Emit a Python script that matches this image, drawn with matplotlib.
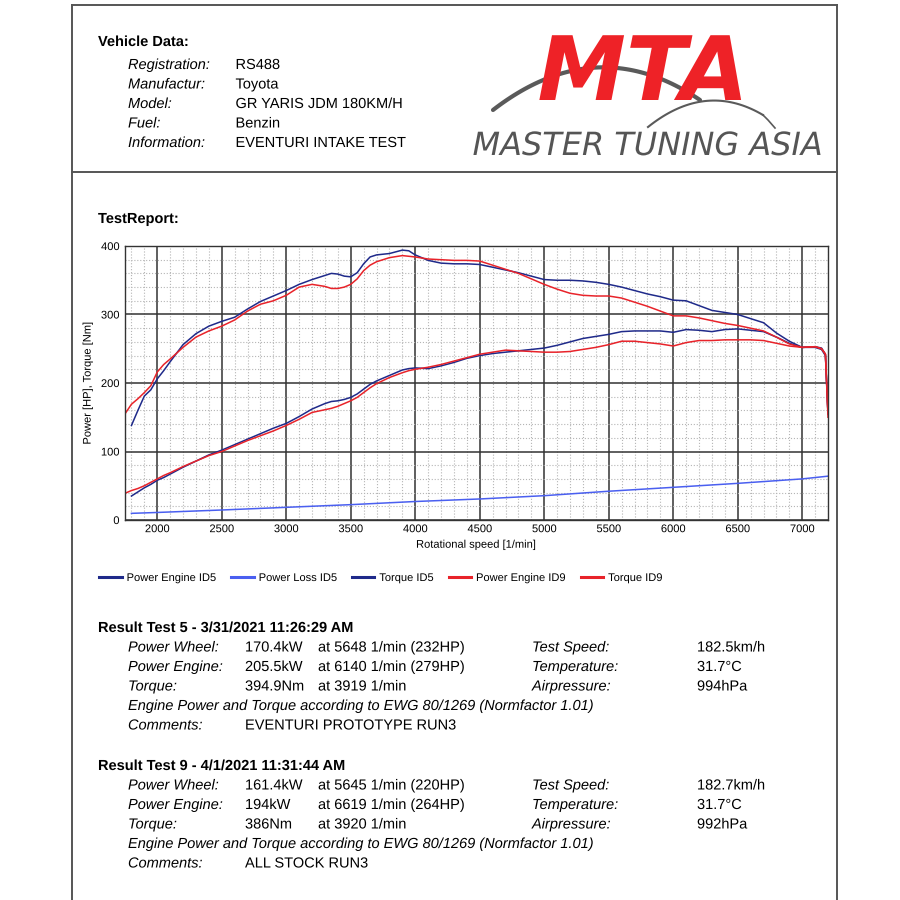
import numpy as np
import matplotlib
matplotlib.use('Agg')
import matplotlib.pyplot as plt
import matplotlib.patheffects as pe
from matplotlib.ticker import MultipleLocator

plt.rcParams['font.family'] = ['Liberation Sans', 'DejaVu Sans']
# draw text as paths so every string on a row sits on the same baseline
plt.rcParams['path.effects'] = [pe.Normal()]

# dyno data
rpm = [1750, 1800, 1850, 1900, 1950, 2000, 2050, 2100, 2200, 2300, 2400, 2500,
       2600, 2700, 2800, 2900, 3000, 3100, 3200, 3300, 3350, 3400, 3450, 3500,
       3550, 3600, 3650, 3700, 3800, 3900, 3950, 4000, 4100, 4200, 4300, 4400,
       4500, 4600, 4700, 4800, 4900, 5000, 5100, 5200, 5300, 5400, 5500, 5600,
       5700, 5800, 5900, 6000, 6100, 6200, 6300, 6400, 6500, 6600, 6700, 6800,
       6900, 7000, 7100, 7150, 7180, 7200]

torque_id5 = [np.nan, 138, 160, 181, 190, 206, 218, 231, 256, 272, 283, 290,
              296, 308, 319, 327, 335, 344, 351, 357, 360, 359, 356, 355,
              361, 374, 384, 387, 389, 394, 393, 387, 379, 375, 374, 374,
              373, 369, 365, 361, 356, 351, 350, 350, 349, 347, 344, 340,
              335, 330, 326, 321, 320, 313, 306, 303, 300, 294, 288, 273,
              261, 252, 252, 249, 240, 155]

power_id5 = [np.nan, 35, 41, 47, 52, 58, 62, 67, 77, 86, 95, 102,
             110, 118, 126, 134, 141, 151, 162, 170, 173, 174, 176, 179,
             184, 191, 198, 203, 211, 219, 221, 222, 221, 225, 230, 236,
             240, 243, 245, 247, 249, 251, 255, 260, 265, 268, 271, 275,
             276, 276, 276, 274, 278, 277, 275, 278, 279, 277, 275, 267,
             258, 252, 253, 251, 242, 155]

power_id9 = [39, 43, 46, 50, 55, 60, 65, 69, 78, 86, 94, 100,
             108, 116, 123, 130, 138, 147, 157, 161, 163, 166, 170, 174,
             179, 186, 193, 199, 208, 215, 218, 220, 223, 227, 232, 237,
             242, 245, 248, 247, 246, 245, 245, 246, 249, 252, 256, 261,
             261, 259, 257, 254, 259, 262, 262, 263, 263, 263, 262, 258,
             254, 252, 253, 250, 242, 150]

torque_id9 = [155, 169, 177, 186, 196, 216, 227, 235, 252, 267, 276, 283,
              292, 305, 315, 320, 328, 340, 344, 341, 338, 338, 340, 344,
              352, 364, 372, 377, 383, 386, 385, 384, 381, 380, 379, 379,
              378, 372, 366, 360, 352, 344, 337, 331, 328, 327, 327, 324,
              318, 312, 305, 298, 298, 295, 291, 287, 284, 280, 276, 267,
              257, 252, 253, 250, 242, 155]

loss_rpm = [1800, 2000, 2500, 3000, 3500, 4000, 4500, 5000, 5500, 6000, 6500, 7000, 7200]
loss_id5 = [9.7, 11, 14.6, 18.5, 22.4, 27, 30.7, 35.5, 42, 47.7, 53.5, 60, 64]

navy = '#1f2a8a'
light_blue = '#4a5ff0'
red = '#e8232a'

fig = plt.figure(figsize=(9, 9), dpi=100)

# page overlay in pixel coordinates
bg = fig.add_axes([0, 0, 1, 1], zorder=0)
bg.set_xlim(0, 900)
bg.set_ylim(900, 0)
bg.axis('off')

frame = '#555555'
bg.plot([72, 72], [5, 900], color=frame, lw=1.4)
bg.plot([837, 837], [5, 900], color=frame, lw=1.4)
bg.plot([72, 837], [5, 5], color=frame, lw=1.4)
bg.plot([72, 837], [172, 172], color=frame, lw=1.4)

fs = 10.5
bg.text(98, 46, 'Vehicle Data:', fontsize=fs, fontweight='bold', va='baseline')
veh_labels = ['Registration:', 'Manufactur:', 'Model:', 'Fuel:', 'Information:']
veh_values = ['RS488', 'Toyota', 'GR YARIS JDM 180KM/H', 'Benzin', 'EVENTURI INTAKE TEST']
for i, (lab, val) in enumerate(zip(veh_labels, veh_values)):
    yb = 69 + i * 19.5
    bg.text(128, yb, lab, fontsize=fs, style='italic', va='baseline')
    bg.text(235.5, yb, val, fontsize=fs, va='baseline')

# logo
t = np.linspace(0, 1, 60)
sx = 493 + (700 - 493) * t
sy = 110 - 150 * t * (1 - t) - 10 * t
bg.plot(sx, sy, color='#5a5a5a', lw=3, solid_capstyle='round', zorder=1)
bg.text(643, 100, 'MTA', fontsize=64, fontweight='bold', style='italic',
        color='#ee2227', ha='center', va='baseline', family='DejaVu Sans', zorder=2)
t2 = np.linspace(0, 1, 40)
bg.plot(648 + 115 * t2, 127 - 80 * t2 * (1 - t2) - 12 * t2, color='#5a5a5a', lw=1.5)
bg.plot([763, 768, 775], [115, 120, 128], color='#5a5a5a', lw=1.2)
bg.text(648, 155, 'MASTER TUNING ASIA', fontsize=23, style='italic',
        color='#555555', ha='center', va='baseline', family='DejaVu Sans')

bg.text(98, 223, 'TestReport:', fontsize=fs, fontweight='bold', va='baseline')

# results
tests = [
    ('Result Test 5 - 3/31/2021 11:26:29 AM', 632,
     ['170.4kW', '205.5kW', '394.9Nm'],
     ['at 5648 1/min (232HP)', 'at 6140 1/min (279HP)', 'at 3919 1/min'],
     ['182.5km/h', '31.7\u00b0C', '994hPa'], 'EVENTURI PROTOTYPE RUN3'),
    ('Result Test 9 - 4/1/2021 11:31:44 AM', 770,
     ['161.4kW', '194kW', '386Nm'],
     ['at 5645 1/min (220HP)', 'at 6619 1/min (264HP)', 'at 3920 1/min'],
     ['182.7km/h', '31.7\u00b0C', '992hPa'], 'ALL STOCK RUN3'),
]
row_labels = ['Power Wheel:', 'Power Engine:', 'Torque:']
right_labels = ['Test Speed:', 'Temperature:', 'Airpressure:']
for title, y0, vals, ats, rvals, comment in tests:
    bg.text(98, y0, title, fontsize=fs, fontweight='bold', va='baseline')
    for i in range(3):
        yb = y0 + 19.5 * (i + 1)
        bg.text(128, yb, row_labels[i], fontsize=fs, style='italic', va='baseline')
        bg.text(245, yb, vals[i], fontsize=fs, va='baseline')
        bg.text(318, yb, ats[i], fontsize=fs, va='baseline')
        bg.text(532, yb, right_labels[i], fontsize=fs, style='italic', va='baseline')
        bg.text(697, yb, rvals[i], fontsize=fs, va='baseline')
    bg.text(128, y0 + 19.5 * 4, 'Engine Power and Torque according to EWG 80/1269 (Normfactor 1.01)',
            fontsize=fs, style='italic', va='baseline')
    bg.text(128, y0 + 19.5 * 5, 'Comments:', fontsize=fs, style='italic', va='baseline')
    bg.text(245, y0 + 19.5 * 5, comment, fontsize=fs, va='baseline')

# chart
ax = fig.add_axes([125 / 900, 1 - 520 / 900, 703 / 900, 274 / 900], zorder=1)
l1, = ax.plot(rpm, power_id5, color=navy, lw=1.1, label='Power Engine ID5')
l2, = ax.plot(loss_rpm, loss_id5, color=light_blue, lw=1.1, label='Power Loss ID5')
l3, = ax.plot(rpm, torque_id5, color=navy, lw=1.1, label='Torque ID5')
l4, = ax.plot(rpm, power_id9, color=red, lw=1.1, label='Power Engine ID9')
l5, = ax.plot(rpm, torque_id9, color=red, lw=1.1, label='Torque ID9')

ax.set_xlim(1750, 7200)
ax.set_ylim(0, 400)
ax.xaxis.set_major_locator(MultipleLocator(500))
ax.xaxis.set_minor_locator(MultipleLocator(100))
ax.yaxis.set_major_locator(MultipleLocator(100))
ax.yaxis.set_minor_locator(MultipleLocator(20))
ax.grid(which='major', color='#333333', lw=1.1)
ax.grid(which='minor', color='#b5b5b5', lw=0.8, ls=':')
ax.set_axisbelow(True)
ax.tick_params(which='both', length=0, labelsize=8)
ax.tick_params(axis='y', pad=4)
ax.tick_params(axis='x', pad=3)
for s in ax.spines.values():
    s.set_color('#333333')
    s.set_linewidth(1.0)
ax.set_xlabel('Rotational speed [1/min]', fontsize=8, labelpad=4)
ax.set_ylabel('Power [HP], Torque [Nm]', fontsize=8, labelpad=6)

fig.legend(handles=[l1, l2, l3, l4, l5], loc='center', bbox_to_anchor=(381 / 900, 1 - 578 / 900),
           ncol=5, frameon=False, fontsize=8, handlelength=2.0, handletextpad=0.45,
           columnspacing=1.35)
for h in fig.legends[0].get_lines():
    h.set_linewidth(2.2)

fig.savefig('out.png', dpi=100)
